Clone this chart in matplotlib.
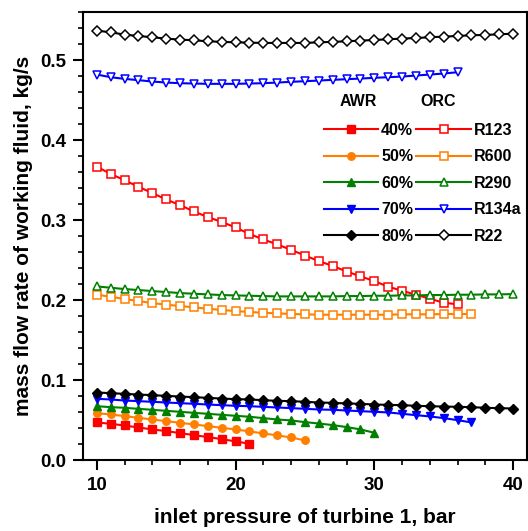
import numpy as np
import matplotlib
matplotlib.use("Agg")
import matplotlib.pyplot as plt

plt.rcParams['font.family'] = ['Liberation Sans', 'DejaVu Sans']
plt.rcParams['font.weight'] = 'bold'

# AWR series (filled markers), x = 10, 11, ...
awr_40 = [0.0474, 0.0457, 0.0436, 0.0411, 0.0387, 0.0366, 0.0341, 0.0316, 0.0291, 0.0266, 0.0237, 0.0208]
awr_50 = [0.0590, 0.0574, 0.0553, 0.0532, 0.0511, 0.0490, 0.0470, 0.0449, 0.0428, 0.0407, 0.0387, 0.0362,
          0.0337, 0.0312, 0.0287, 0.0249]
awr_60 = [0.0677, 0.0665, 0.0657, 0.0644, 0.0632, 0.0619, 0.0607, 0.0594, 0.0582, 0.0569, 0.0557, 0.0545,
          0.0528, 0.0511, 0.0499, 0.0478, 0.0461, 0.0441, 0.0416, 0.0387, 0.0345]
awr_70 = [0.0769, 0.0761, 0.0748, 0.0740, 0.0732, 0.0723, 0.0715, 0.0707, 0.0698, 0.0690, 0.0682, 0.0677,
          0.0669, 0.0661, 0.0653, 0.0644, 0.0636, 0.0632, 0.0623, 0.0615, 0.0607, 0.0599, 0.0582, 0.0565,
          0.0549, 0.0528, 0.0503, 0.0474]
awr_80 = [0.0848, 0.0840, 0.0831, 0.0823, 0.0815, 0.0806, 0.0798, 0.0790, 0.0781, 0.0773, 0.0765, 0.0761,
          0.0752, 0.0744, 0.0740, 0.0732, 0.0723, 0.0719, 0.0711, 0.0707, 0.0698, 0.0694, 0.0690, 0.0682,
          0.0677, 0.0673, 0.0669, 0.0665, 0.0657, 0.0653, 0.0648]

# ORC series (open markers)
r123 = [0.367, 0.358, 0.350, 0.342, 0.334, 0.326, 0.319, 0.311, 0.304, 0.298, 0.291, 0.283, 0.276, 0.270,
        0.263, 0.256, 0.249, 0.243, 0.236, 0.230, 0.224, 0.217, 0.212, 0.207, 0.202, 0.197, 0.195]
r600 = [0.2070, 0.2045, 0.2016, 0.1991, 0.1966, 0.1945, 0.1929, 0.1912, 0.1895, 0.1879, 0.1866, 0.1854,
        0.1845, 0.1837, 0.1829, 0.1825, 0.1820, 0.1820, 0.1820, 0.1820, 0.1820, 0.1820, 0.1825, 0.1825,
        0.1825, 0.1829, 0.1829, 0.1829]
r290 = [0.2174, 0.2157, 0.2141, 0.2128, 0.2116, 0.2103, 0.2091, 0.2082, 0.2074, 0.2066, 0.2061, 0.2057,
        0.2053, 0.2049, 0.2049, 0.2049, 0.2049, 0.2049, 0.2053, 0.2053, 0.2057, 0.2057, 0.2061, 0.2061,
        0.2066, 0.2066, 0.2070, 0.2070, 0.2074, 0.2074, 0.2078]
r134a = [0.4821, 0.4788, 0.4767, 0.4751, 0.4734, 0.4721, 0.4713, 0.4709, 0.4705, 0.4705, 0.4705, 0.4709,
         0.4713, 0.4721, 0.4730, 0.4738, 0.4746, 0.4755, 0.4763, 0.4771, 0.4780, 0.4788, 0.4796, 0.4809,
         0.4821, 0.4834, 0.4850]
r22 = [0.5370, 0.5349, 0.5320, 0.5303, 0.5287, 0.5270, 0.5258, 0.5249, 0.5237, 0.5229, 0.5224, 0.5220,
       0.5216, 0.5216, 0.5216, 0.5216, 0.5224, 0.5229, 0.5237, 0.5245, 0.5253, 0.5262, 0.5270, 0.5278,
       0.5287, 0.5295, 0.5303, 0.5312, 0.5316, 0.5324, 0.5332]

p_start = 10
awr = [("40%", awr_40, "#FF0000", "s"), ("50%", awr_50, "#FF8000", "o"),
       ("60%", awr_60, "#008000", "^"), ("70%", awr_70, "#0000FF", "v"),
       ("80%", awr_80, "#000000", "D")]
orc = [("R123", r123, "#FF0000", "s"), ("R600", r600, "#FF8000", "s"),
       ("R290", r290, "#008000", "^"), ("R134a", r134a, "#0000FF", "v"),
       ("R22", r22, "#000000", "D")]

fig = plt.figure(figsize=(5.28, 5.31), dpi=100)
ax = fig.add_axes([0.157, 0.133, 0.841, 0.844])

handles = []
for name, ys, col, mk in awr:
    xs = np.arange(p_start, p_start + len(ys))
    ms = 4.7 if mk == "D" else 5.4
    h, = ax.plot(xs, ys, color=col, marker=mk, ms=ms, lw=1.5, mfc=col, mec=col, label=name)
    handles.append(h)
for name, ys, col, mk in orc:
    xs = np.arange(p_start, p_start + len(ys))
    ms = 4.7 if mk == "D" else 5.4
    h, = ax.plot(xs, ys, color=col, marker=mk, ms=ms, lw=1.5, mfc="white", mec=col, mew=1.1, label=name)
    handles.append(h)

ax.set_xlim(9, 41)
ax.set_ylim(0, 0.56)
ax.set_xticks([10, 20, 30, 40])
ax.set_xticks(np.arange(10, 41, 2), minor=True)
ax.set_yticks(np.arange(0, 0.51, 0.1))
ax.set_yticks(np.arange(0, 0.56, 0.02), minor=True)
ax.yaxis.set_major_formatter(matplotlib.ticker.FormatStrFormatter('%.1f'))
ax.tick_params(which='major', direction='out', length=7, width=1.5, labelsize=13.5, pad=5)
ax.tick_params(which='minor', direction='out', length=3.6, width=1.2)
for s in ax.spines.values():
    s.set_linewidth(1.5)

ax.set_xlabel("inlet pressure of turbine 1, bar", fontsize=15, fontweight='bold', labelpad=10)
ax.set_ylabel("mass flow rate of working fluid, kg/s", fontsize=15, fontweight='bold', labelpad=5)

leg = ax.legend(handles=handles, ncol=2, loc='upper left', bbox_to_anchor=(0.51, 0.785),
                frameon=False, handlelength=3.4, handletextpad=0.2,
                columnspacing=0.2, labelspacing=0.72, prop={'weight': 'bold', 'size': 11.5})
fig.text(358 / 528, 1 - 102 / 531, "AWR", fontsize=11.5, fontweight='bold', ha='center', va='center')
fig.text(438 / 528, 1 - 102 / 531, "ORC", fontsize=11.5, fontweight='bold', ha='center', va='center')

fig.savefig("out.png", dpi=100)
